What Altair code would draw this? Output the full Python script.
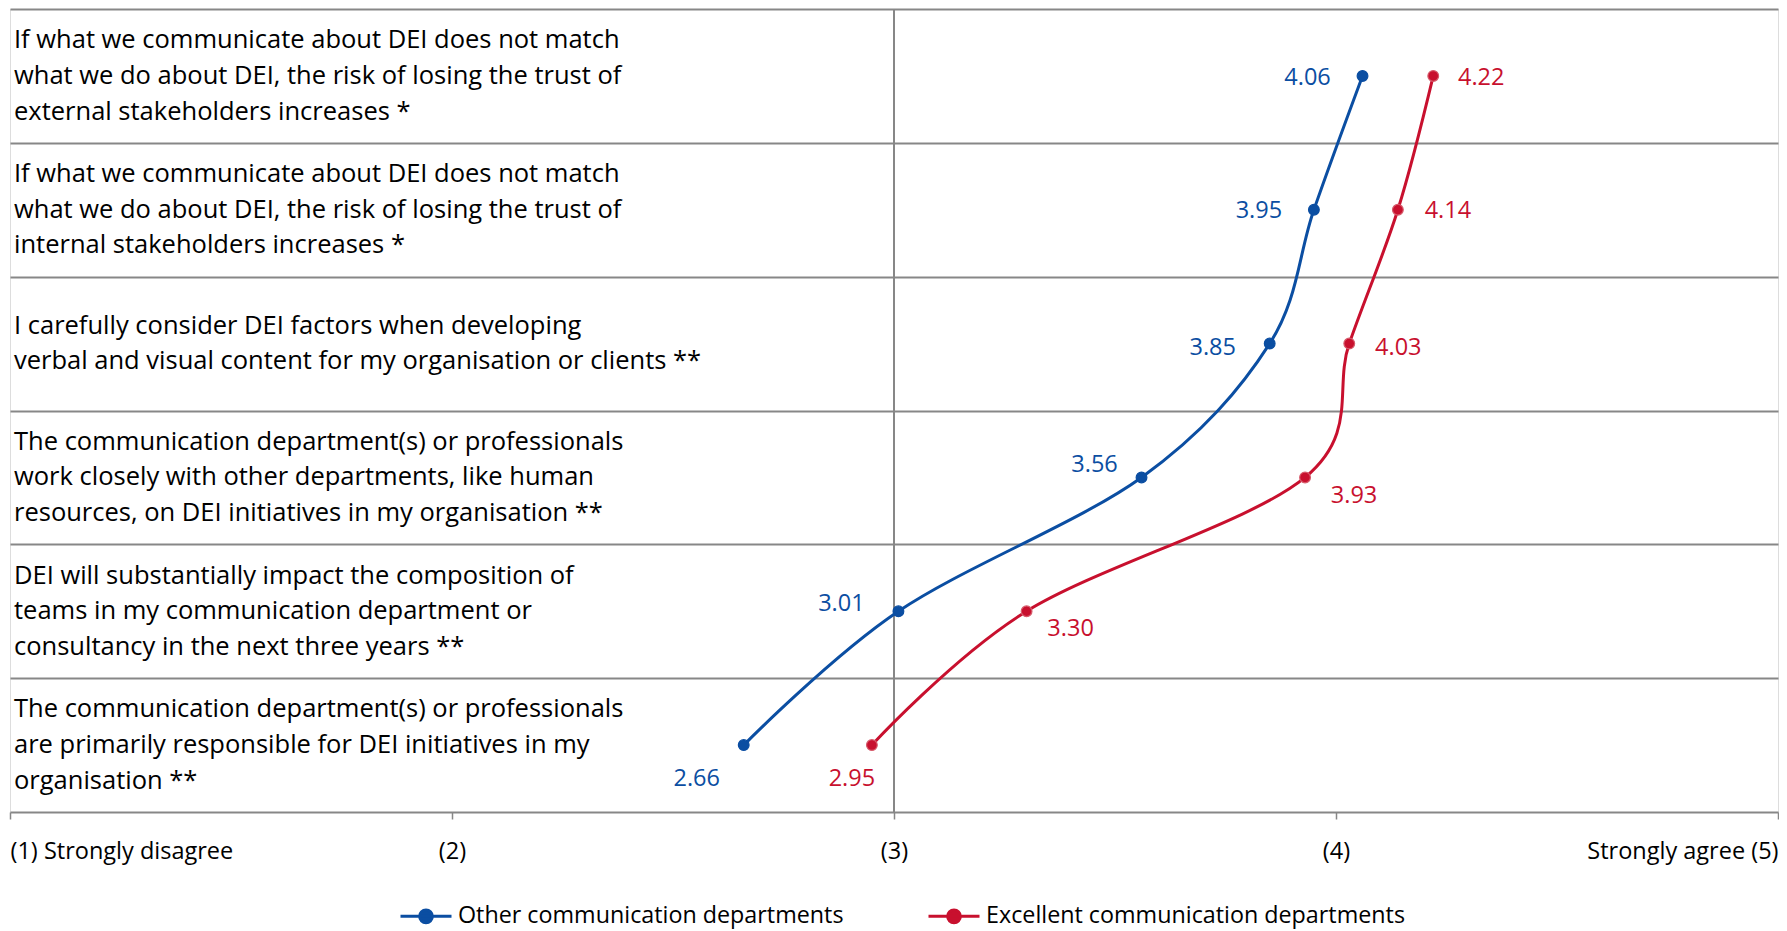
import altair as alt
import pandas as pd

# ---------------- data ----------------
categories = [
    "If what we communicate about DEI does not match\nwhat we do about DEI, the risk of losing the trust of\nexternal stakeholders increases *",
    "If what we communicate about DEI does not match\nwhat we do about DEI, the risk of losing the trust of\ninternal stakeholders increases *",
    "I carefully consider DEI factors when developing\nverbal and visual content for my organisation or clients **",
    "The communication department(s) or professionals\nwork closely with other departments, like human\nresources, on DEI initiatives in my organisation **",
    "DEI will substantially impact the composition of\nteams in my communication department or\nconsultancy in the next three years **",
    "The communication department(s) or professionals\nare primarily responsible for DEI initiatives in my\norganisation **",
]
series_names = ["Other communication departments", "Excellent communication departments"]
other_values = [4.06, 3.95, 3.85, 3.56, 3.01, 2.66]
excellent_values = [4.22, 4.14, 4.03, 3.93, 3.30, 2.95]
tick_values = [1, 2, 3, 4, 5]
tick_labels = ["(1) Strongly disagree", "(2)", "(3)", "(4)", "Strongly agree (5)"]

# ---------------- styling ----------------
colors = ["#0B4EA2", "#C8102E"]
marker_outline = ["#0B4EA2", "#D65A6A"]
grid_color = "#878787"
FONT = "Open Sans"
FS_ROW = 25.5
FS_VAL = 23.5
FS_AXIS = 23.5
FS_LEG = 23.3
LINE_H = 35.7
W, H = 1768, 803
X_MIN, X_MAX = 1, 5
N_ROWS = len(categories)
# value-label placement (pixel offsets from the marker)
other_dx = [-55, -55, -57, -47, -57, -47]
other_dy = [2, 1, 4, -12, -7, 34]
excellent_dx = [48, 50, 49, 49, 44, -20]
excellent_dy = [2, 1, 4, 19, 18, 34]

px_x = (X_MAX - X_MIN) / W   # data units per pixel (x)
px_y = N_ROWS / H            # data units per pixel (y)

rows = pd.DataFrame({
    "label": categories,
    "pos": [i + 0.5 for i in range(N_ROWS)],
    "nlines": [c.count("\n") + 1 for c in categories],
})

recs = []
for name, vals, dxs, dys in [
    (series_names[0], other_values, other_dx, other_dy),
    (series_names[1], excellent_values, excellent_dx, excellent_dy),
]:
    for i, v in enumerate(vals):
        recs.append({"series": name, "row": i, "pos": i + 0.5, "value": v, "dx": dxs[i], "dy": dys[i]})
df = pd.DataFrame(recs)

label_expr = "[" + ",".join("'" + t + "'" for t in tick_labels) + "][datum.value - 1]"

x_scale = alt.Scale(domain=[X_MIN, X_MAX], nice=False, zero=False)
y_scale = alt.Scale(domain=[0, N_ROWS], nice=False, zero=False, reverse=True)

x_axis = alt.Axis(
    values=tick_values, labelExpr=label_expr, labelFlush=True, labelLimit=0, title=None, grid=False,
    domainColor=grid_color, domainWidth=2, tickColor=grid_color, tickWidth=1.5, tickSize=7,
    labelFont=FONT, labelFontSize=FS_AXIS, labelColor="#000000", labelPadding=20,
)
y_axis = alt.Axis(
    values=list(range(N_ROWS)), labels=False, ticks=False, domain=False, title=None,
    grid=True, gridColor=grid_color, gridWidth=2,
)

color_scale = alt.Scale(domain=series_names, range=colors)
legend_path = "M-1,0H1M-0.25,0A0.25,0.25,0,1,1,0.25,0A0.25,0.25,0,1,1,-0.25,0Z"
legend = alt.Legend(
    title=None, orient="none", direction="horizontal", legendX=389, legendY=880,
    symbolType=legend_path, symbolSize=2601, symbolStrokeWidth=3,
    labelFont=FONT, labelFontSize=FS_LEG, labelColor="#000000", labelOffset=5, labelLimit=0,
    columnPadding=78, padding=0,
)

base = alt.Chart(df)

row_labels = alt.Chart(rows).transform_calculate(
    xs=str(X_MIN),
    ty=f"datum.pos - (datum.nlines - 1) / 2 * {LINE_H} * {px_y}",
).mark_text(
    align="left", baseline="middle", lineBreak="\n", lineHeight=LINE_H,
    font=FONT, fontSize=FS_ROW, color="#000000", dx=4,
).encode(
    x=alt.X("xs:Q", scale=x_scale, axis=x_axis),
    y=alt.Y("ty:Q", scale=y_scale, axis=y_axis),
    text="label:N",
)

vline = alt.Chart(rows).mark_rule(color=grid_color, strokeWidth=2).encode(x=alt.datum(3))

line = base.mark_line(interpolate="cardinal", strokeWidth=3).encode(
    x=alt.X("value:Q", scale=x_scale),
    y=alt.Y("pos:Q", scale=y_scale),
    stroke=alt.Stroke("series:N", scale=color_scale, legend=legend),
    order=alt.Order("row:Q"),
)

points = base.mark_point(filled=True, size=115, opacity=1, strokeWidth=1.2).encode(
    x=alt.X("value:Q", scale=x_scale),
    y=alt.Y("pos:Q", scale=y_scale),
    fill=alt.Fill("series:N", scale=color_scale, legend=legend),
    stroke=alt.condition(
        f"datum.series == '{series_names[1]}'", alt.value(marker_outline[1]), alt.value(marker_outline[0])
    ),
)

labels = base.transform_calculate(
    lx=f"datum.value + datum.dx * {px_x}",
    ly=f"datum.pos + datum.dy * {px_y}",
).mark_text(font=FONT, fontSize=FS_VAL, baseline="middle", align="center").encode(
    x=alt.X("lx:Q", scale=x_scale),
    y=alt.Y("ly:Q", scale=y_scale),
    text=alt.Text("value:Q", format=".2f"),
    color=alt.Color("series:N", scale=color_scale, legend=None),
)

chart = alt.layer(row_labels, vline, line, points, labels).properties(
    width=W, height=H,
    autosize=alt.AutoSizeParams(type="none"),
    padding={"left": 2, "top": 1, "right": 1, "bottom": 120},
).configure_view(stroke=None).configure(background="white")

chart.save("out.html", embed_options={"renderer": "svg", "actions": False})
